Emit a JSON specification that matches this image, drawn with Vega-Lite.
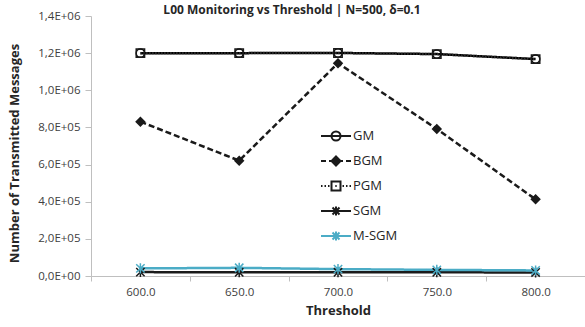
{
  "$schema": "https://vega.github.io/schema/vega-lite/v6.json",
  "width": 494,
  "height": 260,
  "autosize": {"type": "none"},
  "padding": {"left": 91, "top": 16, "right": 0, "bottom": 51},
  "background": "white",
  "config": {
    "view": {"stroke": null},
    "font": "Open Sans",
    "axis": {"labelFont": "Open Sans", "titleFont": "Open Sans"},
    "legend": {
      "orient": "none",
      "legendX": 234,
      "legendY": 109,
      "title": null,
      "symbolSize": 400,
      "rowPadding": 5,
      "labelOffset": 6,
      "labelFontSize": 13,
      "labelFont": "Open Sans",
      "labelColor": "#262626",
      "symbolOpacity": 1,
      "symbolStrokeWidth": 2
    }
  },
  "title": {
    "text": "L00 Monitoring vs Threshold | N=500, δ=0.1",
    "fontSize": 12,
    "fontWeight": "bold",
    "color": "#262626",
    "anchor": "middle",
    "dx": -46,
    "offset": -7,
    "font": "Open Sans"
  },
  "data": {
    "values": [
      {"threshold": 600, "series": "GM", "messages": 1200000},
      {"threshold": 650, "series": "GM", "messages": 1200000},
      {"threshold": 700, "series": "GM", "messages": 1201000},
      {"threshold": 750, "series": "GM", "messages": 1195000},
      {"threshold": 800, "series": "GM", "messages": 1168000},
      {"threshold": 600, "series": "BGM", "messages": 831000},
      {"threshold": 650, "series": "BGM", "messages": 621000},
      {"threshold": 700, "series": "BGM", "messages": 1146000},
      {"threshold": 750, "series": "BGM", "messages": 792000},
      {"threshold": 800, "series": "BGM", "messages": 413000},
      {"threshold": 600, "series": "PGM", "messages": 1200000},
      {"threshold": 650, "series": "PGM", "messages": 1200000},
      {"threshold": 700, "series": "PGM", "messages": 1201000},
      {"threshold": 750, "series": "PGM", "messages": 1195000},
      {"threshold": 800, "series": "PGM", "messages": 1168000},
      {"threshold": 600, "series": "SGM", "messages": 21000},
      {"threshold": 650, "series": "SGM", "messages": 20000},
      {"threshold": 700, "series": "SGM", "messages": 20000},
      {"threshold": 750, "series": "SGM", "messages": 20000},
      {"threshold": 800, "series": "SGM", "messages": 19000},
      {"threshold": 600, "series": "M-SGM", "messages": 41000},
      {"threshold": 650, "series": "M-SGM", "messages": 44000},
      {"threshold": 700, "series": "M-SGM", "messages": 37000},
      {"threshold": 750, "series": "M-SGM", "messages": 33000},
      {"threshold": 800, "series": "M-SGM", "messages": 30000}
    ]
  },
  "encoding": {
    "x": {
      "field": "threshold",
      "type": "ordinal",
      "scale": {"type": "band", "paddingInner": 0, "paddingOuter": 0},
      "axis": {
        "title": "Threshold",
        "titleFontSize": 13,
        "titleFontWeight": "bold",
        "titleColor": "#262626",
        "titlePadding": 7,
        "labelExpr": "isValid(datum.value) && isFinite(datum.value) ? format(datum.value, '.1f') : ''",
        "labelAngle": 0,
        "labelFontSize": 11.5,
        "labelColor": "#404040",
        "labelPadding": 5,
        "tickBand": "extent",
        "tickSize": 5,
        "tickColor": "#BFBFBF",
        "domainColor": "#BFBFBF",
        "domainWidth": 1,
        "grid": false
      }
    },
    "y": {
      "field": "messages",
      "type": "quantitative",
      "scale": {"domain": [0, 1400000], "nice": false, "zero": true},
      "axis": {
        "title": "Number of Transmitted Messages",
        "titleFontSize": 13,
        "titleFontWeight": "bold",
        "titleColor": "#262626",
        "titleX": -77,
        "titleY": 137,
        "titleBaseline": "middle",
        "values": [0, 200000, 400000, 600000, 800000, 1000000, 1200000, 1400000],
        "labelExpr": "datum.value == 0 ? '0,0E+00' : replace(format(datum.value / pow(10, floor(log(datum.value) / LN10 + 1e-9)), '.1f'), '.', ',') + 'E+' + (floor(log(datum.value) / LN10 + 1e-9) < 10 ? '0' : '') + floor(log(datum.value) / LN10 + 1e-9)",
        "labelFontSize": 11.5,
        "labelColor": "#404040",
        "labelPadding": 5,
        "tickSize": 6,
        "tickColor": "#BFBFBF",
        "domainColor": "#BFBFBF",
        "grid": false
      }
    }
  },
  "layer": [
    {
      "mark": {"type": "line"},
      "encoding": {
        "detail": {"field": "series"},
        "color": {
          "field": "series",
          "type": "nominal",
          "scale": {"domain": ["M-SGM", "SGM", "PGM", "BGM", "GM"], "range": ["#4BACC6", "#1a1a1a", "#404040", "#1a1a1a", "#000000"]},
          "legend": null
        },
        "strokeDash": {
          "field": "series",
          "type": "nominal",
          "scale": {"domain": ["M-SGM", "SGM", "PGM", "BGM", "GM"], "range": [[1, 0], [1, 0], [1, 2], [6, 3], [1, 0]]},
          "legend": null
        },
        "strokeWidth": {
          "field": "series",
          "type": "ordinal",
          "scale": {"domain": ["M-SGM", "SGM", "PGM", "BGM", "GM"], "range": [2.5, 2.5, 1, 2.2, 2]},
          "legend": null
        },
        "order": {"field": "threshold", "type": "quantitative"}
      }
    },
    {
      "mark": {"type": "point", "opacity": 1, "strokeWidth": 1.5},
      "encoding": {
        "shape": {
          "field": "series",
          "type": "nominal",
          "scale": {
            "domain": ["M-SGM", "SGM", "PGM", "BGM", "GM"],
            "range": ["M-1,-1L1,1M-1,1L1,-1M0,-1.2L0,1.2", "M-1,-1L1,1M-1,1L1,-1M0,-1.2L0,1.2", "square", "diamond", "circle"]
          },
          "legend": null
        },
        "stroke": {
          "field": "series",
          "type": "nominal",
          "scale": {"domain": ["M-SGM", "SGM", "PGM", "BGM", "GM"], "range": ["#4BACC6", "#1a1a1a", "#1a1a1a", "#1a1a1a", "#000000"]},
          "legend": null
        },
        "fill": {
          "field": "series",
          "type": "nominal",
          "scale": {"domain": ["M-SGM", "SGM", "PGM", "BGM", "GM"], "range": ["transparent", "transparent", "transparent", "#1a1a1a", "transparent"]},
          "legend": null
        },
        "size": {
          "field": "series",
          "type": "ordinal",
          "scale": {"domain": ["M-SGM", "SGM", "PGM", "BGM", "GM"], "range": [70, 70, 75, 55, 75]},
          "legend": null
        }
      }
    },
    {
      "mark": {"type": "point", "opacity": 0, "size": 400, "strokeWidth": 2},
      "encoding": {
        "shape": {
          "field": "series",
          "type": "nominal",
          "scale": {
            "domain": ["GM", "BGM", "PGM", "SGM", "M-SGM"],
            "range": [
              "M-1.5,0L1.5,0M-0.45,0A0.45,0.45 0 1,0 0.45,0A0.45,0.45 0 1,0 -0.45,0",
              "M-1.5,0L-1,0M-0.7,0L0.7,0M1,0L1.5,0M0,-0.45L0.45,0L0,0.45L-0.45,0Z",
              "M-1.5,0L-1.35,0M-1.15,0L-1,0M-0.8,0L-0.65,0M-0.45,-0.45L0.45,-0.45L0.45,0.45L-0.45,0.45ZM-0.07,0L0.07,0M0.65,0L0.8,0M1,0L1.15,0M1.35,0L1.5,0",
              "M-1.5,0L1.5,0M-0.35,-0.35L0.35,0.35M-0.35,0.35L0.35,-0.35M0,-0.45L0,0.45",
              "M-1.5,0L1.5,0M-0.35,-0.35L0.35,0.35M-0.35,0.35L0.35,-0.35M0,-0.45L0,0.45"
            ]
          },
          "legend": {"title": null}
        },
        "color": {
          "field": "series",
          "type": "nominal",
          "scale": {"domain": ["GM", "BGM", "PGM", "SGM", "M-SGM"], "range": ["#1a1a1a", "#1a1a1a", "#1a1a1a", "#1a1a1a", "#4BACC6"]},
          "legend": {"title": null}
        },
        "fill": {
          "field": "series",
          "type": "nominal",
          "scale": {"domain": ["GM", "BGM", "PGM", "SGM", "M-SGM"], "range": ["transparent", "#1a1a1a", "transparent", "transparent", "transparent"]},
          "legend": {"title": null}
        }
      }
    }
  ],
  "resolve": {"scale": {"color": "independent", "shape": "independent", "fill": "independent", "stroke": "independent", "size": "independent"}}
}
